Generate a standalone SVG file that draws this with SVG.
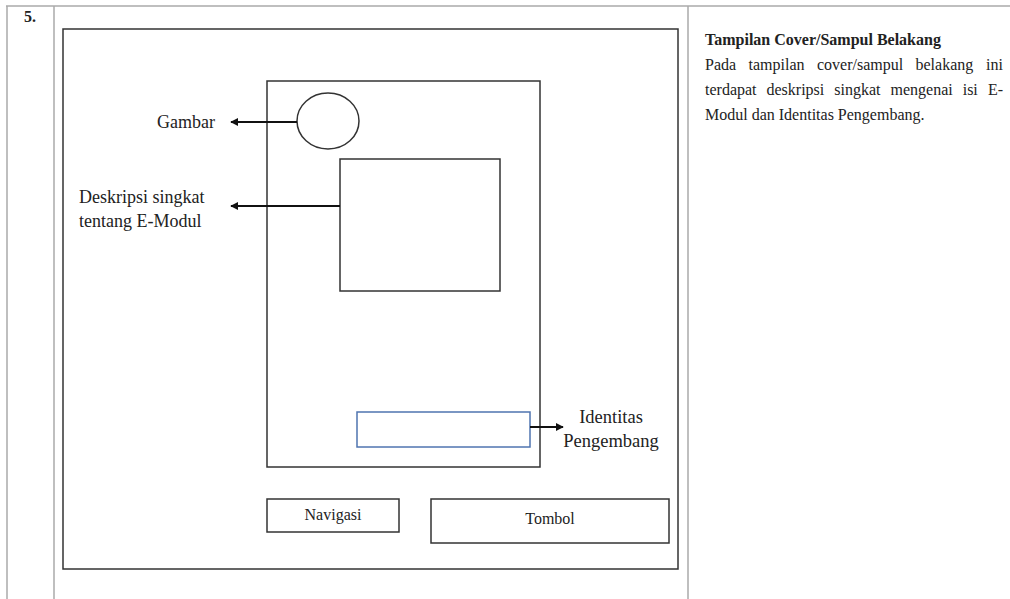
<svg xmlns="http://www.w3.org/2000/svg" width="1010" height="599" viewBox="0 0 1010 599">
<style>
.t{font-family:"Liberation Serif","Times New Roman",serif;fill:#222}
.lbl{font-size:18px}
.box{fill:none;stroke:#333;stroke-width:1.5}
.grid{stroke:#aaa;stroke-width:1.5;fill:none}
.conn{stroke:#111;stroke-width:2;fill:none;marker-end:url(#arr)}
.p{font-size:16px}
</style>
<defs>
<marker id="arr" viewBox="0 0 10 10" refX="9" refY="5" markerWidth="4" markerHeight="4" orient="auto-start-reverse" markerUnits="strokeWidth">
<path d="M0,0 L10,5 L0,10 z" fill="#111"/>
</marker>
</defs>
<rect width="1010" height="599" fill="#fff"/>
<g id="table">
<line class="grid" x1="6" y1="6" x2="1010" y2="6"/>
<line class="grid" x1="7" y1="6" x2="7" y2="599"/>
<line class="grid" x1="54" y1="6" x2="54" y2="599"/>
<line class="grid" x1="688" y1="6" x2="688" y2="599"/>
<text class="t" x="24" y="22" font-size="16" font-weight="bold">5.</text>
</g>
<g id="frame"><rect class="box" x="63" y="29" width="615" height="540"/></g>
<g id="phone"><rect class="box" x="267" y="81" width="273" height="386"/></g>
<g id="gambar-img"><ellipse class="box" cx="328" cy="121" rx="31" ry="28"/></g>
<g id="desc-box"><rect class="box" x="340" y="159" width="160" height="132"/></g>
<g id="identitas-box"><rect x="357" y="412" width="173" height="35" fill="none" stroke="#4f74b0" stroke-width="1.5"/></g>
<g id="navigasi"><rect class="box" x="267" y="499" width="132" height="33"/><text class="t" x="333" y="520" text-anchor="middle" font-size="16">Navigasi</text></g>
<g id="tombol"><rect class="box" x="431" y="499" width="238" height="44"/><text class="t" x="550" y="524" text-anchor="middle" font-size="16">Tombol</text></g>
<g id="connectors">
<line class="conn" x1="297" y1="122" x2="231" y2="122"/>
<line class="conn" x1="340" y1="206" x2="231" y2="206"/>
<line class="conn" x1="530" y1="427" x2="563" y2="427"/>
</g>
<g id="labels">
<text class="t lbl" x="215" y="128" text-anchor="end">Gambar</text>
<text class="t lbl" x="79" y="203">Deskripsi singkat</text>
<text class="t lbl" x="79" y="227">tentang E-Modul</text>
<text class="t" x="611" y="423" text-anchor="middle" font-size="18.5">Identitas</text>
<text class="t" x="611" y="447" text-anchor="middle" font-size="18.5">Pengembang</text>
</g>
<g id="description">
<text class="t" x="705" y="45" font-size="16" font-weight="bold">Tampilan Cover/Sampul Belakang</text>
<text class="t p" y="70"><tspan x="705">Pada</tspan><tspan x="748.5">tampilan</tspan><tspan x="817">cover/sampul</tspan><tspan x="915.5">belakang</tspan><tspan x="1003" text-anchor="end">ini</tspan></text>
<text class="t p" y="95"><tspan x="705">terdapat</tspan><tspan x="766.5">deskripsi</tspan><tspan x="834.3">singkat</tspan><tspan x="890.5">mengenai</tspan><tspan x="962.7">isi</tspan><tspan x="1003" text-anchor="end">E-</tspan></text>
<text class="t p" x="705" y="120">Modul dan Identitas Pengembang.</text>
</g>
</svg>
